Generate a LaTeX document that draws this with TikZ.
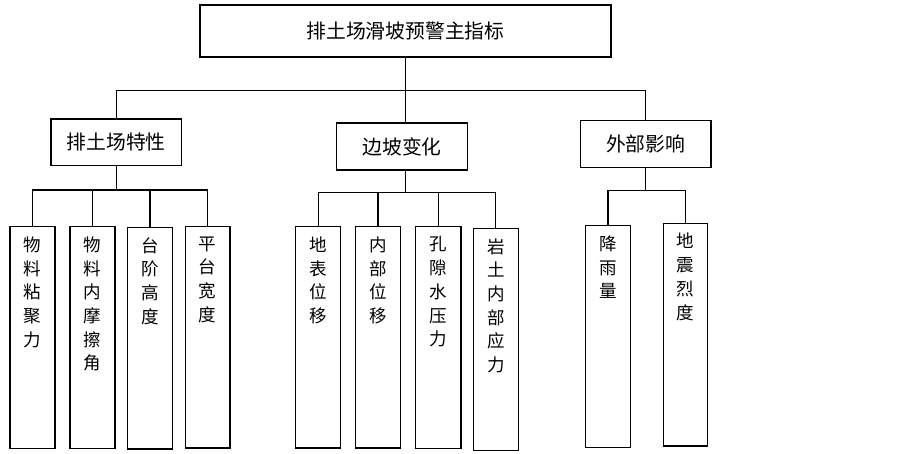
\documentclass[tikz,border=0pt]{standalone}
\usepackage{fontspec}
\newfontfamily\cjk{Noto Sans CJK SC}
\newcommand\leafbox[6]{%
  \node[box, minimum width=#5pt, minimum height={(#4-#3)*1pt}] (#1) at (#2,{(#3+#4)/2}) {};
  \node[lt] (#1t) at ([yshift=-10pt]#1.north) {#6};}
\begin{document}
\begin{tikzpicture}[x=1pt,y=-1pt,line width=1.3pt,
  box/.style={draw, inner sep=0pt},
  ttl/.style={font=\cjk\fontsize{19.8}{19.8}\selectfont},
  lt/.style={font=\cjk\fontsize{17.5}{23.7}\selectfont, align=center, anchor=north, inner sep=0pt}]
\useasboundingbox (0,0) rectangle (903,454);
% root
\node[box, ttl, minimum width=411pt, minimum height=52pt] (root) at (405.5,31) {排土场滑坡预警主指标};
% level 1
\node[box, ttl, minimum width=130.7pt, minimum height=46.7pt] (a) at (116.3,142.3) {排土场特性};
\node[box, ttl, minimum width=130.6pt, minimum height=47pt] (b) at (402,146.5) {边坡变化};
\node[box, ttl, minimum width=130.7pt, minimum height=47pt] (c) at (645.7,143.8) {外部影响};
% leaves
\leafbox{a1}{32.5}{226.7}{448.3}{45}{物\\料\\粘\\聚\\力}
\leafbox{a2}{92.5}{226.7}{448.3}{45}{物\\料\\内\\摩\\擦\\角}
\leafbox{a3}{150}{227.3}{449}{44.6}{台\\阶\\高\\度}
\leafbox{a4}{207.7}{226.7}{448}{44.7}{平\\台\\宽\\度}
\leafbox{b1}{318.2}{226.7}{448}{45}{地\\表\\位\\移}
\leafbox{b2}{378}{226.7}{448}{44.6}{内\\部\\位\\移}
\leafbox{b3}{438.3}{226.7}{448.7}{45.3}{孔\\隙\\水\\压\\力}
\leafbox{b4}{495.8}{228.3}{450.7}{45}{岩\\土\\内\\部\\应\\力}
\leafbox{c1}{608}{225.7}{447.7}{44.6}{降\\雨\\量}
\leafbox{c2}{685.5}{223.3}{446}{44.4}{地\\震\\烈\\度}
% connectors
\coordinate (bus0) at (405.5,90.7);
\coordinate (busA) at (116.3,190);
\coordinate (busB) at (405.5,192.5);
\coordinate (busC) at (645.7,190.7);
\draw (root.south) -- (root.south |- b.north);
\draw (a.north) |- (bus0) -| (c.north);
\draw (a.south) -- (busA);
\draw (a1.north) |- (busA) -| (a4.north);
\draw (a2.north) -- (a2.north |- busA);
\draw (a3.north) -- (a3.north |- busA);
\draw (busB |- b.south) -- (busB);
\draw (b1.north) |- (busB) -| (b4.north);
\draw (b2.north) -- (b2.north |- busB);
\draw (b3.north) -- (b3.north |- busB);
\draw (c.south) -- (busC);
\draw (c1.north) |- (busC) -| (c2.north);
\end{tikzpicture}
\end{document}
